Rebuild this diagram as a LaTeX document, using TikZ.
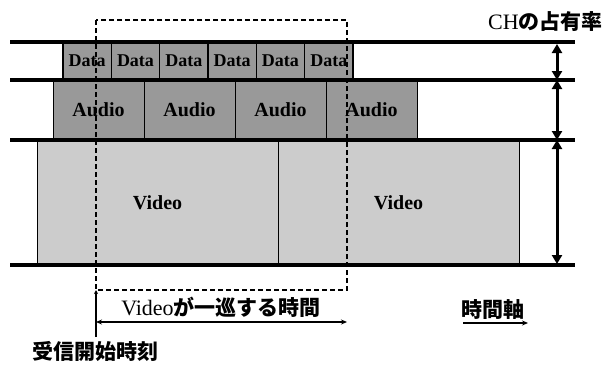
\documentclass[tikz,border=0pt]{standalone}
\usepackage{fontspec}
\setmainfont{Liberation Serif}
\newfontfamily\jp{Noto Sans CJK JP}
\usetikzlibrary{arrows.meta}
\tikzset{
  rowline/.style={line width=4pt},
  cellbox/.style={draw=black, inner sep=0pt, font=\bfseries},
  databox/.style={cellbox, fill=black!40, line width=1.5pt, minimum width=48.33pt, minimum height=38pt, font=\bfseries\fontsize{18}{18}\selectfont},
  audiobox/.style={cellbox, fill=black!40, line width=0.8pt, minimum width=91pt, minimum height=59pt, font=\bfseries\fontsize{20}{20}\selectfont},
  videobox/.style={cellbox, fill=black!20, line width=0.8pt, minimum width=241pt, minimum height=125pt, font=\bfseries\fontsize{20}{20}\selectfont},
  dashbox/.style={dashed, dash pattern=on 5pt off 3pt, line width=1.2pt},
  share/.style={line width=3pt, {Triangle[length=9pt,width=10pt]}-{Triangle[length=9pt,width=10pt]}},
  label/.style={inner sep=0pt, font=\fontsize{21}{21}\selectfont},
}
\begin{document}
\begin{tikzpicture}[x=1pt,y=-1pt]
\useasboundingbox (0,0) rectangle (604,365);
% Data row
\foreach \i in {1,...,6} {
  \node[databox] (d\i) at ({63+48.33*(\i-0.5)},61) {Data};
}
% Audio row
\foreach \i in {1,...,4} {
  \node[audiobox] (a\i) at ({53+91*(\i-0.5)},110) {Audio};
}
% Video row
\node[videobox] (v1) at (157.5,203) {Video};
\node[videobox] (v2) at (398.5,203) {Video};
% row lines
\coordinate (l1a) at (10,42);  \coordinate (l1b) at (575,42);
\coordinate (l2a) at (10,80);  \coordinate (l2b) at (575,80);
\coordinate (l3a) at (10,140); \coordinate (l3b) at (575,140);
\coordinate (l4a) at (10,265); \coordinate (l4b) at (575,265);
\draw[rowline] (l1a) -- (l1b);
\draw[rowline] (l2a) -- (l2b);
\draw[rowline] (l3a) -- (l3b);
\draw[rowline] (l4a) -- (l4b);
% share arrows
\coordinate (s1) at (557,44);
\coordinate (s2) at (557,80);
\coordinate (s3) at (557,140);
\coordinate (s4) at (557,264);
\draw[share] (s1) -- (s2);
\draw[share] (s2) -- (s3);
\draw[share] (s3) -- (s4);
% dashed window
\coordinate (wtl) at (96,20);
\coordinate (wbr) at (347,290);
\draw[dashbox] (wtl) rectangle (wbr);
% start time line
\coordinate (st) at (96,290);
\coordinate (sb) at (96,337);
\draw[line width=1.5pt, -{Stealth[length=4pt,width=4pt]}] (sb) -- (st);
% period arrow
\coordinate (pa) at (96,322);
\coordinate (pb) at (347,322);
\draw[line width=2pt, {Stealth[length=6pt,width=5pt]}-{Stealth[length=6pt,width=5pt]}] (pa) -- (pb);
\node[label] (period) at (221,307) {\fontsize{22}{22}\selectfont Video{\jp\fontsize{21}{21}\selectfont\bfseries が一巡する時間}};
% time axis
\node[label] (taxis) at (493,309) {\jp\bfseries 時間軸};
\coordinate (ta) at (463,323);
\coordinate (tb) at (528,323);
\draw[line width=1.5pt, -{Stealth[length=6pt,width=5pt]}] (ta) -- (tb);
% labels
\node[label] (start) at (95,351) {\jp\bfseries 受信開始時刻};
\node[label, anchor=east] (ch) at (603,22) {\fontsize{22}{22}\selectfont CH{\jp\fontsize{21}{21}\selectfont\bfseries の占有率}};
\end{tikzpicture}
\end{document}
